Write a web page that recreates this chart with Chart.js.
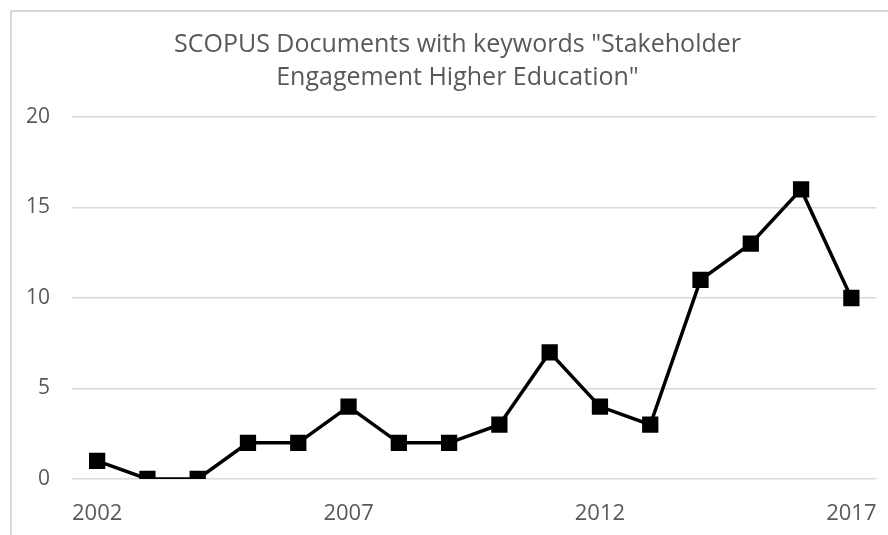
<!DOCTYPE html>
<html>
<head>
<meta charset="utf-8">
<script src="https://cdn.jsdelivr.net/npm/chart.js@4"></script>
<style>
  html, body { margin: 0; padding: 0; background: #fff; }
  #wrap { position: relative; width: 888px; height: 535px; }
  #frame {
    position: absolute; left: 10px; top: 10px; width: 890px; height: 540px;
    border-top: 2px solid #d9d9d9; border-left: 2px solid #d9d9d9;
    pointer-events: none;
  }
</style>
</head>
<body>
<div id="wrap">
  <canvas id="chart" width="888" height="535"></canvas>
  <div id="frame"></div>
</div>
<script>
// Data
const years = ['2002', '2003', '2004', '2005', '2006', '2007', '2008', '2009',
               '2010', '2011', '2012', '2013', '2014', '2015', '2016', '2017'];
const documents = [1, 0, 0, 2, 2, 4, 2, 2, 3, 7, 4, 3, 11, 13, 16, 10];
const titleLines = ['SCOPUS Documents with keywords "Stakeholder', 'Engagement Higher Education"'];

const textColor = '#595959';
const fontFamily = '"Open Sans", sans-serif';

// Title in the original sits a bit right of the canvas centre
const shiftTitle = {
    id: 'shiftTitle',
    afterLayout(chart) {
        const t = chart.titleBlock;
        if (t) { t.left += 18; t.right += 18; }
    }
};

const ctx = document.getElementById('chart').getContext('2d');
new Chart(ctx, {
    type: 'line',
    data: {
        labels: years,
        datasets: [{
            label: 'Documents',
            data: documents,
            borderColor: '#000',
            backgroundColor: '#000',
            borderWidth: 3.5,
            pointStyle: 'rect',
            pointRadius: 11.5,
            pointBorderWidth: 0,
            pointBackgroundColor: '#000',
            tension: 0,
            fill: false
        }]
    },
    options: {
        responsive: false,
        animation: false,
        layout: { padding: { left: 0, right: 9, top: 0, bottom: 0 } },
        plugins: {
            legend: { display: false },
            tooltip: { enabled: false },
            title: {
                display: true,
                text: titleLines,
                color: textColor,
                font: { family: fontFamily, size: 25, weight: 'normal', lineHeight: 1.32 },
                padding: { top: 28, bottom: 23 }
            }
        },
        scales: {
            x: {
                offset: true,
                grid: { display: false, drawTicks: false },
                border: { display: false },
                ticks: {
                    autoSkip: false,
                    maxRotation: 0,
                    padding: 22,
                    color: textColor,
                    font: { family: fontFamily, size: 22 },
                    callback: function(value, index) {
                        return index % 5 === 0 ? years[index] : '';
                    }
                },
                afterFit: function(scale) {
                    scale.height = 56;
                    scale.paddingLeft = 0;
                    scale.paddingRight = 0;
                }
            },
            y: {
                min: 0,
                max: 20,
                grid: { color: '#d9d9d9', lineWidth: 1.5, drawTicks: false },
                border: { display: false },
                ticks: {
                    stepSize: 5,
                    padding: 22,
                    color: textColor,
                    font: { family: fontFamily, size: 21 }
                },
                afterFit: function(scale) { scale.width = 72; }
            }
        }
    },
    plugins: [shiftTitle]
});
</script>
</body>
</html>
